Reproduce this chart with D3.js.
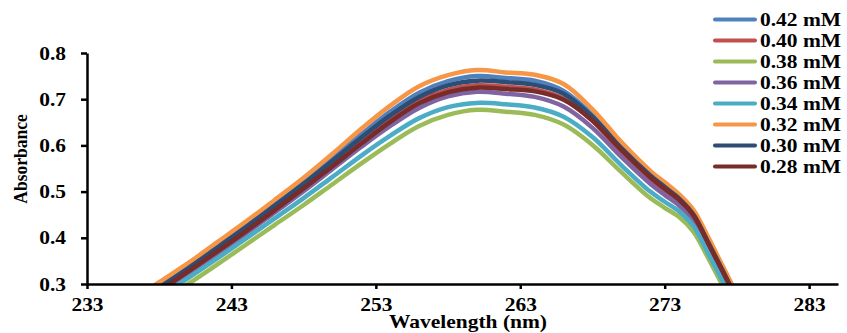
<!doctype html>
<html lang="en">
<head>
  <meta charset="utf-8" />
  <title>Absorbance spectra</title>
  <script src="https://d3js.org/d3.v7.min.js"></script>
  <style>
    body { margin: 0; background: #fff; }
    text { font-family: "Liberation Serif", "Times New Roman", serif; font-weight: bold; fill: #000; }
  </style>
</head>
<body>
<script type="text/javascript">

  // wavelengths (nm) the curves were read at
  var wavelengths = [236, 238, 240, 242, 244, 246, 248, 250, 252, 254, 256, 258, 260, 262, 264, 266, 268, 270, 272, 273, 274, 275, 276, 277, 278, 279];

  var labels = ["0.42 mM", "0.40 mM", "0.38 mM", "0.36 mM", "0.34 mM", "0.32 mM", "0.30 mM", "0.28 mM"];
  var colors = ["#4F81BD", "#C0504D", "#9BBB59", "#8064A2", "#4BACC6", "#F79646", "#2C4D75", "#772C2A"];

  var abs042 = [0.255, 0.295, 0.337, 0.382, 0.427, 0.474, 0.522, 0.573, 0.624, 0.673, 0.714, 0.739, 0.750, 0.746, 0.740, 0.718, 0.666, 0.597, 0.537, 0.512, 0.487, 0.452, 0.393, 0.332, 0.270, 0.210];
  var abs040 = [0.248, 0.288, 0.330, 0.373, 0.418, 0.464, 0.511, 0.560, 0.609, 0.656, 0.696, 0.720, 0.730, 0.727, 0.721, 0.701, 0.653, 0.586, 0.527, 0.502, 0.477, 0.442, 0.383, 0.323, 0.262, 0.200];
  var abs038 = [0.222, 0.260, 0.300, 0.342, 0.385, 0.428, 0.471, 0.516, 0.561, 0.604, 0.642, 0.666, 0.677, 0.673, 0.666, 0.645, 0.601, 0.542, 0.486, 0.465, 0.445, 0.413, 0.357, 0.297, 0.237, 0.180];
  var abs036 = [0.240, 0.280, 0.322, 0.365, 0.409, 0.455, 0.501, 0.549, 0.597, 0.642, 0.681, 0.706, 0.716, 0.712, 0.705, 0.684, 0.638, 0.575, 0.517, 0.493, 0.470, 0.437, 0.378, 0.318, 0.257, 0.195];
  var abs034 = [0.232, 0.272, 0.313, 0.355, 0.398, 0.442, 0.486, 0.532, 0.578, 0.621, 0.659, 0.683, 0.692, 0.689, 0.682, 0.662, 0.618, 0.557, 0.500, 0.478, 0.457, 0.425, 0.367, 0.307, 0.247, 0.188];
  var abs032 = [0.262, 0.304, 0.345, 0.390, 0.435, 0.482, 0.530, 0.582, 0.636, 0.686, 0.728, 0.752, 0.763, 0.758, 0.753, 0.733, 0.678, 0.607, 0.545, 0.520, 0.494, 0.460, 0.402, 0.340, 0.278, 0.218];
  var abs030 = [0.252, 0.292, 0.334, 0.378, 0.423, 0.470, 0.517, 0.567, 0.617, 0.665, 0.705, 0.730, 0.740, 0.737, 0.731, 0.712, 0.662, 0.594, 0.535, 0.510, 0.485, 0.450, 0.391, 0.330, 0.268, 0.207];
  var abs028 = [0.245, 0.285, 0.327, 0.370, 0.414, 0.460, 0.507, 0.555, 0.604, 0.651, 0.691, 0.715, 0.725, 0.722, 0.717, 0.699, 0.654, 0.590, 0.531, 0.506, 0.482, 0.448, 0.389, 0.328, 0.266, 0.205];

  var series = [abs042, abs040, abs038, abs036, abs034, abs032, abs030, abs028];

  var xTicks = [233, 243, 253, 263, 273, 283];
  var yTicks = [0.3, 0.4, 0.5, 0.6, 0.7, 0.8];

  var width = 847, height = 333;
  var stretch = 1.13; // text in the reference is a little wide

  var x = d3.scaleLinear().domain([233, 285]).range([87, 838]);
  var y = d3.scaleLinear().domain([0.3, 0.8]).range([284, 53]);

  var svg = d3.select("body").append("svg")
    .attr("width", width)
    .attr("height", height);

  svg.append("clipPath")
    .attr("id", "plot")
    .append("rect")
    .attr("x", x.range()[0])
    .attr("y", 0)
    .attr("width", x.range()[1] - x.range()[0])
    .attr("height", y.range()[0]);

  var line = d3.line()
    .x(function(d, i) { return x(wavelengths[i]); })
    .y(function(d) { return y(d); })
    .curve(d3.curveCatmullRom.alpha(0.5));

  svg.append("g")
    .attr("clip-path", "url(#plot)")
    .selectAll("path")
    .data(series)
    .enter().append("path")
    .attr("fill", "none")
    .attr("stroke", function(d, i) { return colors[i]; })
    .attr("stroke-width", 4.5)
    .attr("stroke-linejoin", "round")
    .attr("d", line);

  function widen(sel) {
    sel.selectAll("text").each(function() {
      var t = d3.select(this);
      var tx = +t.attr("x") || 0;
      t.attr("x", 0).attr("transform", "translate(" + tx + ",0) scale(" + stretch + ",1)");
    });
  }

  var xAxis = svg.append("g")
    .attr("transform", "translate(0," + y.range()[0] + ")")
    .call(d3.axisBottom(x).tickValues(xTicks).tickSize(5).tickPadding(9).tickSizeOuter(0));
  xAxis.call(widen);

  var yAxis = svg.append("g")
    .attr("transform", "translate(" + x.range()[0] + ",0)")
    .call(d3.axisLeft(y).tickValues(yTicks).tickFormat(d3.format(".1f")).tickSize(6).tickPadding(15).tickSizeOuter(0));
  yAxis.call(widen);

  svg.selectAll(".domain").attr("stroke", "#000").attr("stroke-width", 2.5);
  svg.selectAll(".tick line").attr("stroke", "#000").attr("stroke-width", 2.5);
  svg.selectAll(".tick text").attr("font-size", 19).attr("font-family", null);

  svg.append("text")
    .attr("transform", "translate(468,328) scale(" + stretch + ",1)")
    .attr("text-anchor", "middle")
    .attr("font-size", 19)
    .text("Wavelength (nm)");

  svg.append("text")
    .attr("transform", "translate(27,159) rotate(-90) scale(1,1.12)")
    .attr("text-anchor", "middle")
    .attr("font-size", 17.5)
    .text("Absorbance");

  // legend
  var legend = svg.append("g")
    .selectAll("g")
    .data(labels)
    .enter().append("g")
    .attr("transform", function(d, i) { return "translate(715," + (19.5 + i * 21) + ")"; });

  legend.append("line")
    .attr("x1", 0)
    .attr("x2", 40)
    .attr("stroke", function(d, i) { return colors[i]; })
    .attr("stroke-width", 4)
    .attr("stroke-linecap", "round");

  legend.append("text")
    .attr("transform", "translate(45,6.5) scale(" + stretch + ",1)")
    .attr("font-size", 19)
    .text(function(d) { return d; });

</script>
</body>
</html>
